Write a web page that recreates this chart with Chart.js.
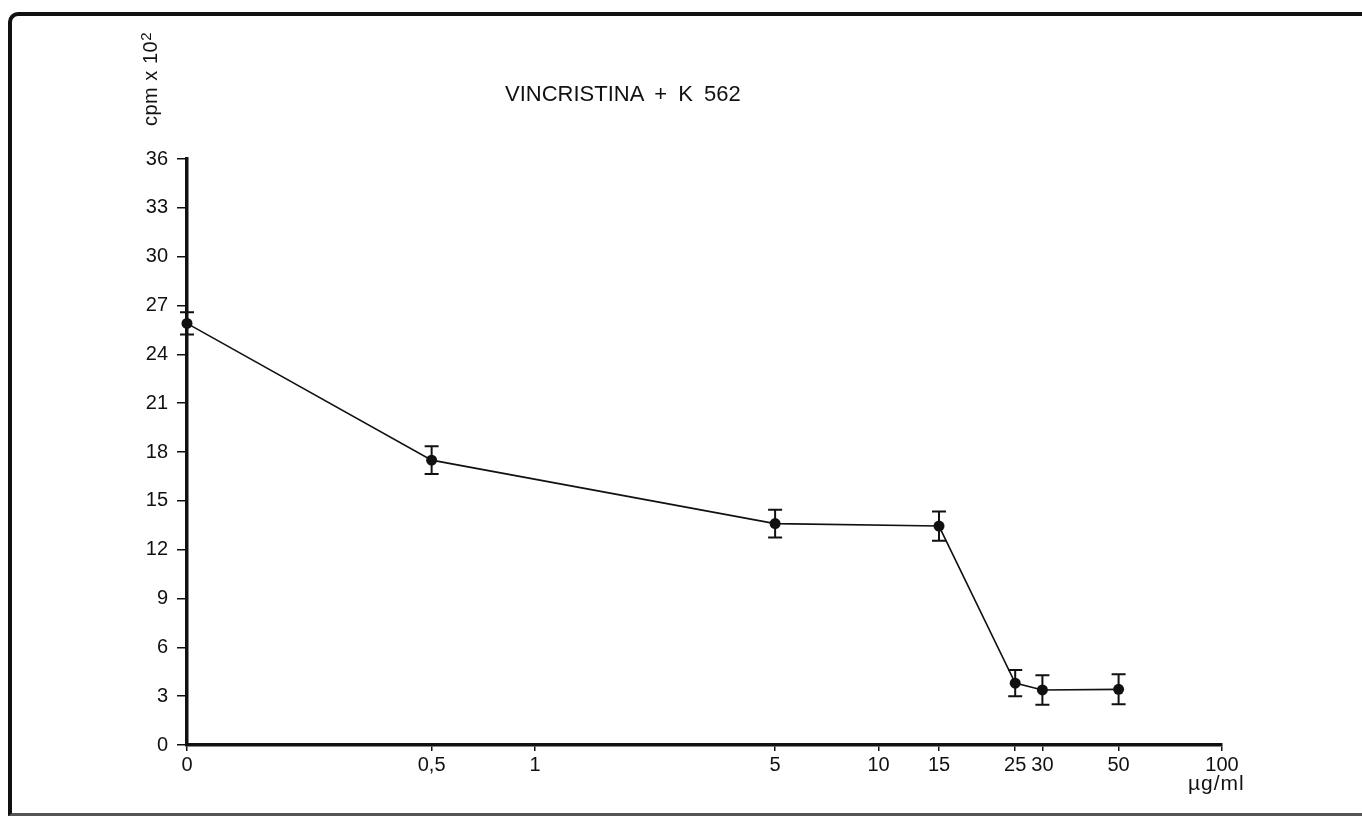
<!DOCTYPE html>
<html>
<head>
<meta charset="utf-8">
<script src="https://cdn.jsdelivr.net/npm/chart.js@4/dist/chart.umd.min.js"></script>
<style>
  html, body { margin: 0; padding: 0; background: #fff; }
  #wrap { position: relative; width: 1362px; height: 816px; overflow: hidden; background: #fff; }
  #c { position: absolute; left: 0; top: 0; }
  #frame { position: absolute; left: 8px; top: 12px; width: 1360px; height: 797px;
           border-left: 4px solid #111; border-top: 4px solid #111; border-bottom: 3px solid #555;
           border-top-left-radius: 10px; pointer-events: none; }
  .txt { position: absolute; font-family: "Liberation Sans", Arial, Helvetica, sans-serif; color: #111; white-space: nowrap; }
  #title { left: 505px; top: 81px; font-size: 22px; word-spacing: 5px; }
  #ytitle { left: 150px; top: 79px; font-size: 20px; letter-spacing: 0.5px; transform: translate(-50%, -50%) rotate(-90deg); }
  #ytitle sup { font-size: 15px; vertical-align: 6px; line-height: 0; }
  #unit { left: 1188px; top: 771px; font-size: 21px; letter-spacing: 1px; }
</style>
</head>
<body>
<div id="wrap">
  <canvas id="c" width="1362" height="816"></canvas>
  <div id="frame"></div>
  <div class="txt" id="title">VINCRISTINA + K 562</div>
  <div class="txt" id="ytitle">cpm x 10<sup>2</sup></div>
  <div class="txt" id="unit">µg/ml</div>
</div>
<script>
// ---- data ----
const doses      = [0, 0.5, 5, 15, 25, 30, 50];                  // µg/ml
const cpmMeans   = [25.9, 17.5, 13.6, 13.45, 3.8, 3.38, 3.42];   // cpm x 10^2
const cpmErrors  = [0.68, 0.85, 0.85, 0.9, 0.81, 0.91, 0.92];
const xTickValues = [0, 0.5, 1, 5, 10, 15, 25, 30, 50, 100];
const xTickLabels = ["0", "0,5", "1", "5", "10", "15", "25", "30", "50", "100"];
const yMin = 0, yMax = 36, yStep = 3;

// axis display: dose 0 sits at the start of the logarithmic axis
const X_MIN = 0.097, X_MAX = 100;
const toAxis = v => (v === 0 ? X_MIN : v);

const points = doses.map((d, i) => ({ x: toAxis(d), y: cpmMeans[i] }));

const errorBars = {
  id: 'errorBars',
  afterDatasetsDraw(chart) {
    const ctx = chart.ctx, xs = chart.scales.x, ys = chart.scales.y;
    ctx.save();
    ctx.strokeStyle = '#111';
    ctx.lineWidth = 2;
    doses.forEach((d, i) => {
      const x = xs.getPixelForValue(toAxis(d));
      const yt = ys.getPixelForValue(cpmMeans[i] + cpmErrors[i]);
      const yb = ys.getPixelForValue(cpmMeans[i] - cpmErrors[i]);
      const cap = 7;
      ctx.beginPath();
      ctx.moveTo(x, yt); ctx.lineTo(x, yb);
      ctx.moveTo(x - cap, yt); ctx.lineTo(x + cap, yt);
      ctx.moveTo(x - cap, yb); ctx.lineTo(x + cap, yb);
      ctx.stroke();
    });
    ctx.restore();
  }
};

const font = { family: '"Liberation Sans", Arial, Helvetica, sans-serif', size: 20 };

new Chart(document.getElementById('c'), {
  type: 'line',
  data: {
    datasets: [{
      data: points,
      borderColor: '#111',
      borderWidth: 1.6,
      backgroundColor: '#111',
      pointRadius: 5.5,
      pointBackgroundColor: '#111',
      pointBorderWidth: 0,
      tension: 0,
      clip: false
    }]
  },
  options: {
    responsive: false,
    animation: false,
    events: [],
    layout: { padding: { left: 0, top: 159, right: 140, bottom: 0 } },
    plugins: { legend: { display: false }, tooltip: { enabled: false }, title: { display: false } },
    scales: {
      x: {
        type: 'logarithmic',
        min: X_MIN, max: X_MAX,
        afterBuildTicks(axis) { axis.ticks = xTickValues.map(v => ({ value: toAxis(v) })); },
        afterFit(axis) { axis.height = 71; },
        border: { display: true, color: '#111', width: 3.5 },
        grid: { display: true, drawOnChartArea: false, drawTicks: true, tickLength: 6, color: '#111', lineWidth: 1.5 },
        ticks: {
          autoSkip: false, maxRotation: 0, minRotation: 0, padding: 2,
          color: '#111', font: font,
          callback: (v, i) => xTickLabels[i]
        }
      },
      y: {
        type: 'linear',
        min: yMin, max: yMax,
        afterFit(axis) { axis.width = 187; },
        border: { display: true, color: '#111', width: 3.5 },
        grid: { display: true, drawOnChartArea: false, drawTicks: true, tickLength: 10, color: '#111', lineWidth: 1.5 },
        ticks: { stepSize: yStep, padding: 9, color: '#111', font: font }
      }
    }
  },
  plugins: [errorBars]
});
</script>
</body>
</html>
